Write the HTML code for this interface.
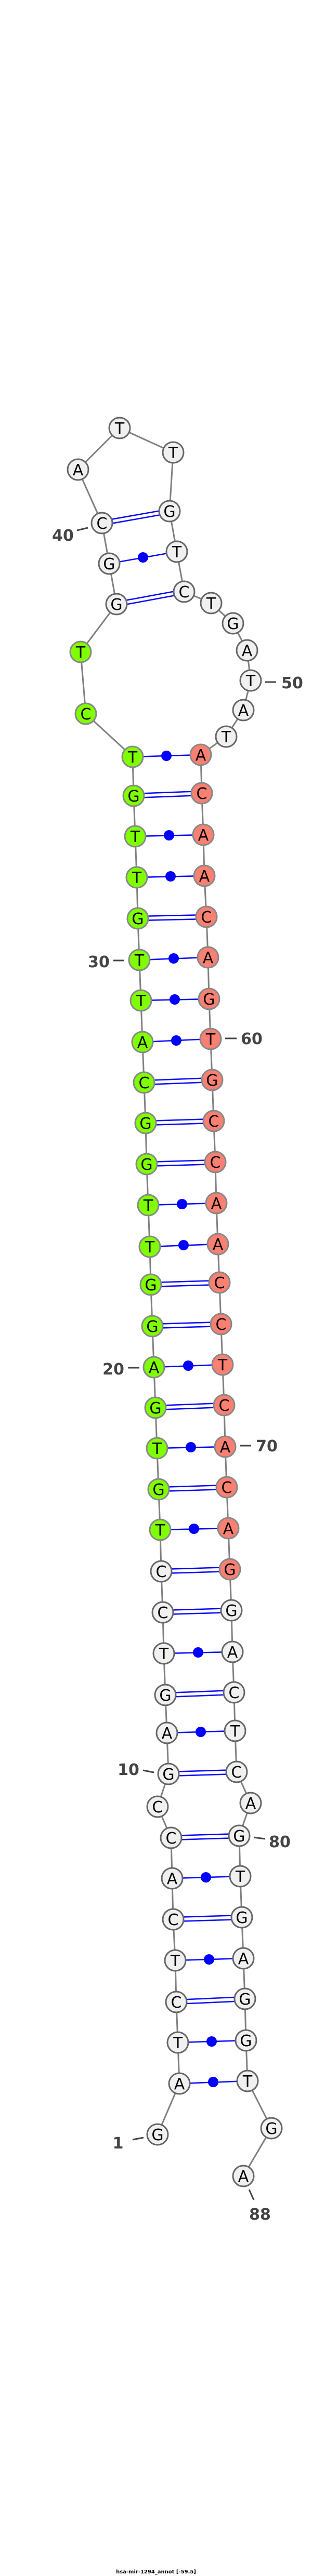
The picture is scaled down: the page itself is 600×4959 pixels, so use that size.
<!DOCTYPE html>
<html><head><meta charset="utf-8"><style>
html,body{margin:0;padding:0;background:#fff;}
svg{display:block;}
.n circle{stroke:#666;stroke-width:3;}
.n circle.gr,.n circle.pk{stroke:#888;}
.g{fill:#f0f0f0}.gr{fill:#7fff00}.pk{fill:#fa8072}
.n text{font-family:"DejaVu Sans","Liberation Sans",sans-serif;font-size:30px;text-anchor:middle;fill:#000;transform:translateY(1px);}
.lb{font-family:"DejaVu Sans","Liberation Sans",sans-serif;font-size:30px;font-weight:bold;fill:#444;text-anchor:middle;}
.tk{stroke:#444;stroke-width:3;}
.p{stroke:#0000ff;stroke-width:2.5;}
</style></head><body>
<svg width="600" height="4959" viewBox="0 0 600 4959" xmlns="http://www.w3.org/2000/svg">
<polyline fill="none" stroke="#808080" stroke-width="3" points="303,4109 345,4011 342,3932 339,3854 337,3774 333,3695 331,3616 329,3538 303,3478 324,3415 321,3336 318,3263 315,3183 313,3104 310,3025 308,2945 305,2867 302,2788 299,2710 296,2632 293,2553 290,2473 288,2400 285,2320 282,2241 280,2162 277,2084 274,2006 271,1926 268,1848 265,1768 263,1689 260,1610 257,1532 255,1457 165,1374 155,1255 224,1163 210,1085 196,1007 150,904 230,824 333,871 326,984 340,1062 354,1139 406,1161 448,1200 475,1252 482,1310 468,1367 435,1418 386,1453 388,1527 391,1607 393,1686 397,1765 400,1843 402,1923 405,2000 408,2079 411,2158 414,2237 416,2316 419,2395 422,2469 425,2549 428,2627 431,2705 433,2785 436,2863 439,2942 442,3021 445,3100 447,3180 450,3258 452,3332 455,3411 482,3471 460,3534 462,3612 465,3691 468,3770 471,3848 473,3928 476,4006 522,4097 468,4189"/>
<g class="p">
<line x1="196" y1="1003" x2="326" y2="980"/><line x1="196" y1="1011" x2="326" y2="988"/>
<line x1="224" y1="1159" x2="354" y2="1135"/><line x1="224" y1="1167" x2="354" y2="1143"/>
<line x1="257" y1="1528" x2="388" y2="1523"/><line x1="257" y1="1536" x2="388" y2="1531"/>
<line x1="265" y1="1764" x2="397" y2="1761"/><line x1="265" y1="1772" x2="397" y2="1769"/>
<line x1="277" y1="2080" x2="408" y2="2075"/><line x1="277" y1="2088" x2="408" y2="2083"/>
<line x1="280" y1="2158" x2="411" y2="2154"/><line x1="280" y1="2166" x2="411" y2="2162"/>
<line x1="282" y1="2237" x2="414" y2="2233"/><line x1="282" y1="2245" x2="414" y2="2241"/>
<line x1="290" y1="2469" x2="422" y2="2465"/><line x1="290" y1="2477" x2="422" y2="2473"/>
<line x1="293" y1="2549" x2="425" y2="2545"/><line x1="293" y1="2557" x2="425" y2="2553"/>
<line x1="299" y1="2706" x2="431" y2="2701"/><line x1="299" y1="2714" x2="431" y2="2709"/>
<line x1="305" y1="2863" x2="436" y2="2859"/><line x1="305" y1="2871" x2="436" y2="2867"/>
<line x1="310" y1="3021" x2="442" y2="3017"/><line x1="310" y1="3029" x2="442" y2="3025"/>
<line x1="313" y1="3100" x2="445" y2="3096"/><line x1="313" y1="3108" x2="445" y2="3104"/>
<line x1="318" y1="3259" x2="450" y2="3254"/><line x1="318" y1="3267" x2="450" y2="3262"/>
<line x1="324" y1="3411" x2="455" y2="3407"/><line x1="324" y1="3419" x2="455" y2="3415"/>
<line x1="329" y1="3534" x2="460" y2="3530"/><line x1="329" y1="3542" x2="460" y2="3538"/>
<line x1="333" y1="3691" x2="465" y2="3687"/><line x1="333" y1="3699" x2="465" y2="3695"/>
<line x1="339" y1="3850" x2="471" y2="3844"/><line x1="339" y1="3858" x2="471" y2="3852"/>
</g>
<g class="p">
<line x1="210" y1="1085" x2="340" y2="1062"/>
<line x1="255" y1="1457" x2="386" y2="1453"/>
<line x1="260" y1="1610" x2="391" y2="1607"/>
<line x1="263" y1="1689" x2="393" y2="1686"/>
<line x1="268" y1="1848" x2="400" y2="1843"/>
<line x1="271" y1="1926" x2="402" y2="1923"/>
<line x1="274" y1="2006" x2="405" y2="2000"/>
<line x1="285" y1="2320" x2="416" y2="2316"/>
<line x1="288" y1="2400" x2="419" y2="2395"/>
<line x1="296" y1="2632" x2="428" y2="2627"/>
<line x1="302" y1="2788" x2="433" y2="2785"/>
<line x1="308" y1="2945" x2="439" y2="2942"/>
<line x1="315" y1="3183" x2="447" y2="3180"/>
<line x1="321" y1="3336" x2="452" y2="3332"/>
<line x1="331" y1="3616" x2="462" y2="3612"/>
<line x1="337" y1="3774" x2="468" y2="3770"/>
<line x1="342" y1="3932" x2="473" y2="3928"/>
<line x1="345" y1="4011" x2="476" y2="4006"/>
</g>
<g fill="#0000ff">
<circle cx="275" cy="1073" r="10"/><circle cx="320" cy="1455" r="10"/><circle cx="325" cy="1608" r="10"/><circle cx="328" cy="1687" r="10"/><circle cx="334" cy="1845" r="10"/><circle cx="336" cy="1924" r="10"/><circle cx="339" cy="2003" r="10"/><circle cx="350" cy="2318" r="10"/><circle cx="353" cy="2397" r="10"/><circle cx="362" cy="2629" r="10"/><circle cx="367" cy="2786" r="10"/><circle cx="373" cy="2943" r="10"/><circle cx="381" cy="3181" r="10"/><circle cx="386" cy="3334" r="10"/><circle cx="396" cy="3614" r="10"/><circle cx="402" cy="3772" r="10"/><circle cx="407" cy="3930" r="10"/><circle cx="410" cy="4008" r="10"/>
</g>
<g class="n">
<circle class="g" cx="303" cy="4109" r="20"/><text x="303" y="4119">G</text>
<circle class="g" cx="345" cy="4011" r="20"/><text x="345" y="4021">A</text>
<circle class="g" cx="342" cy="3932" r="20"/><text x="342" y="3942">T</text>
<circle class="g" cx="339" cy="3854" r="20"/><text x="339" y="3864">C</text>
<circle class="g" cx="337" cy="3774" r="20"/><text x="337" y="3784">T</text>
<circle class="g" cx="333" cy="3695" r="20"/><text x="333" y="3705">C</text>
<circle class="g" cx="331" cy="3616" r="20"/><text x="331" y="3626">A</text>
<circle class="g" cx="329" cy="3538" r="20"/><text x="329" y="3548">C</text>
<circle class="g" cx="303" cy="3478" r="20"/><text x="303" y="3488">C</text>
<circle class="g" cx="324" cy="3415" r="20"/><text x="324" y="3425">G</text>
<circle class="g" cx="321" cy="3336" r="20"/><text x="321" y="3346">A</text>
<circle class="g" cx="318" cy="3263" r="20"/><text x="318" y="3273">G</text>
<circle class="g" cx="315" cy="3183" r="20"/><text x="315" y="3193">T</text>
<circle class="g" cx="313" cy="3104" r="20"/><text x="313" y="3114">C</text>
<circle class="g" cx="310" cy="3025" r="20"/><text x="310" y="3035">C</text>
<circle class="gr" cx="308" cy="2945" r="20"/><text x="308" y="2955">T</text>
<circle class="gr" cx="305" cy="2867" r="20"/><text x="305" y="2877">G</text>
<circle class="gr" cx="302" cy="2788" r="20"/><text x="302" y="2798">T</text>
<circle class="gr" cx="299" cy="2710" r="20"/><text x="299" y="2720">G</text>
<circle class="gr" cx="296" cy="2632" r="20"/><text x="296" y="2642">A</text>
<circle class="gr" cx="293" cy="2553" r="20"/><text x="293" y="2563">G</text>
<circle class="gr" cx="290" cy="2473" r="20"/><text x="290" y="2483">G</text>
<circle class="gr" cx="288" cy="2400" r="20"/><text x="288" y="2410">T</text>
<circle class="gr" cx="285" cy="2320" r="20"/><text x="285" y="2330">T</text>
<circle class="gr" cx="282" cy="2241" r="20"/><text x="282" y="2251">G</text>
<circle class="gr" cx="280" cy="2162" r="20"/><text x="280" y="2172">G</text>
<circle class="gr" cx="277" cy="2084" r="20"/><text x="277" y="2094">C</text>
<circle class="gr" cx="274" cy="2006" r="20"/><text x="274" y="2016">A</text>
<circle class="gr" cx="271" cy="1926" r="20"/><text x="271" y="1936">T</text>
<circle class="gr" cx="268" cy="1848" r="20"/><text x="268" y="1858">T</text>
<circle class="gr" cx="265" cy="1768" r="20"/><text x="265" y="1778">G</text>
<circle class="gr" cx="263" cy="1689" r="20"/><text x="263" y="1699">T</text>
<circle class="gr" cx="260" cy="1610" r="20"/><text x="260" y="1620">T</text>
<circle class="gr" cx="257" cy="1532" r="20"/><text x="257" y="1542">G</text>
<circle class="gr" cx="255" cy="1457" r="20"/><text x="255" y="1467">T</text>
<circle class="gr" cx="165" cy="1374" r="20"/><text x="165" y="1384">C</text>
<circle class="gr" cx="155" cy="1255" r="20"/><text x="155" y="1265">T</text>
<circle class="g" cx="224" cy="1163" r="20"/><text x="224" y="1173">G</text>
<circle class="g" cx="210" cy="1085" r="20"/><text x="210" y="1095">G</text>
<circle class="g" cx="196" cy="1007" r="20"/><text x="196" y="1017">C</text>
<circle class="g" cx="150" cy="904" r="20"/><text x="150" y="914">A</text>
<circle class="g" cx="230" cy="824" r="20"/><text x="230" y="834">T</text>
<circle class="g" cx="333" cy="871" r="20"/><text x="333" y="881">T</text>
<circle class="g" cx="326" cy="984" r="20"/><text x="326" y="994">G</text>
<circle class="g" cx="340" cy="1062" r="20"/><text x="340" y="1072">T</text>
<circle class="g" cx="354" cy="1139" r="20"/><text x="354" y="1149">C</text>
<circle class="g" cx="406" cy="1161" r="20"/><text x="406" y="1171">T</text>
<circle class="g" cx="448" cy="1200" r="20"/><text x="448" y="1210">G</text>
<circle class="g" cx="475" cy="1252" r="20"/><text x="475" y="1262">A</text>
<circle class="g" cx="482" cy="1310" r="20"/><text x="482" y="1320">T</text>
<circle class="g" cx="468" cy="1367" r="20"/><text x="468" y="1377">A</text>
<circle class="g" cx="435" cy="1418" r="20"/><text x="435" y="1428">T</text>
<circle class="pk" cx="386" cy="1453" r="20"/><text x="386" y="1463">A</text>
<circle class="pk" cx="388" cy="1527" r="20"/><text x="388" y="1537">C</text>
<circle class="pk" cx="391" cy="1607" r="20"/><text x="391" y="1617">A</text>
<circle class="pk" cx="393" cy="1686" r="20"/><text x="393" y="1696">A</text>
<circle class="pk" cx="397" cy="1765" r="20"/><text x="397" y="1775">C</text>
<circle class="pk" cx="400" cy="1843" r="20"/><text x="400" y="1853">A</text>
<circle class="pk" cx="402" cy="1923" r="20"/><text x="402" y="1933">G</text>
<circle class="pk" cx="405" cy="2000" r="20"/><text x="405" y="2010">T</text>
<circle class="pk" cx="408" cy="2079" r="20"/><text x="408" y="2089">G</text>
<circle class="pk" cx="411" cy="2158" r="20"/><text x="411" y="2168">C</text>
<circle class="pk" cx="414" cy="2237" r="20"/><text x="414" y="2247">C</text>
<circle class="pk" cx="416" cy="2316" r="20"/><text x="416" y="2326">A</text>
<circle class="pk" cx="419" cy="2395" r="20"/><text x="419" y="2405">A</text>
<circle class="pk" cx="422" cy="2469" r="20"/><text x="422" y="2479">C</text>
<circle class="pk" cx="425" cy="2549" r="20"/><text x="425" y="2559">C</text>
<circle class="pk" cx="428" cy="2627" r="20"/><text x="428" y="2637">T</text>
<circle class="pk" cx="431" cy="2705" r="20"/><text x="431" y="2715">C</text>
<circle class="pk" cx="433" cy="2785" r="20"/><text x="433" y="2795">A</text>
<circle class="pk" cx="436" cy="2863" r="20"/><text x="436" y="2873">C</text>
<circle class="pk" cx="439" cy="2942" r="20"/><text x="439" y="2952">A</text>
<circle class="pk" cx="442" cy="3021" r="20"/><text x="442" y="3031">G</text>
<circle class="g" cx="445" cy="3100" r="20"/><text x="445" y="3110">G</text>
<circle class="g" cx="447" cy="3180" r="20"/><text x="447" y="3190">A</text>
<circle class="g" cx="450" cy="3258" r="20"/><text x="450" y="3268">C</text>
<circle class="g" cx="452" cy="3332" r="20"/><text x="452" y="3342">T</text>
<circle class="g" cx="455" cy="3411" r="20"/><text x="455" y="3421">C</text>
<circle class="g" cx="482" cy="3471" r="20"/><text x="482" y="3481">A</text>
<circle class="g" cx="460" cy="3534" r="20"/><text x="460" y="3544">G</text>
<circle class="g" cx="462" cy="3612" r="20"/><text x="462" y="3622">T</text>
<circle class="g" cx="465" cy="3691" r="20"/><text x="465" y="3701">G</text>
<circle class="g" cx="468" cy="3770" r="20"/><text x="468" y="3780">A</text>
<circle class="g" cx="471" cy="3848" r="20"/><text x="471" y="3858">G</text>
<circle class="g" cx="473" cy="3928" r="20"/><text x="473" y="3938">G</text>
<circle class="g" cx="476" cy="4006" r="20"/><text x="476" y="4016">T</text>
<circle class="g" cx="522" cy="4097" r="20"/><text x="522" y="4107">G</text>
<circle class="g" cx="468" cy="4189" r="20"/><text x="468" y="4199">A</text>
</g>
<line class="tk" x1="148" y1="1021" x2="169" y2="1016"/><text class="lb" x="121" y="1041">40</text>
<line class="tk" x1="510" y1="1313" x2="531" y2="1313"/><text class="lb" x="562" y="1325">50</text>
<line class="tk" x1="218" y1="1849" x2="239" y2="1849"/><text class="lb" x="190" y="1862">30</text>
<line class="tk" x1="433" y1="1999" x2="455" y2="1999"/><text class="lb" x="484" y="2010">60</text>
<line class="tk" x1="246" y1="2633" x2="268" y2="2633"/><text class="lb" x="218" y="2646">20</text>
<line class="tk" x1="462" y1="2783" x2="483" y2="2783"/><text class="lb" x="513" y="2794">70</text>
<line class="tk" x1="275" y1="3408" x2="296" y2="3412"/><text class="lb" x="247" y="3417">10</text>
<line class="tk" x1="488" y1="3537" x2="510" y2="3540"/><text class="lb" x="538" y="3556">80</text>
<line class="tk" x1="255" y1="4119" x2="276" y2="4115"/><text class="lb" x="227" y="4136">1</text>
<line class="tk" x1="479" y1="4215" x2="488" y2="4235"/><text class="lb" x="500" y="4273">88</text>
<text x="300" y="4954" font-family="DejaVu Sans, Liberation Sans, sans-serif" font-size="10" font-weight="bold" text-anchor="middle" fill="#000">hsa-mir-1294_annot [-59.5]</text>
</svg>
</body></html>
